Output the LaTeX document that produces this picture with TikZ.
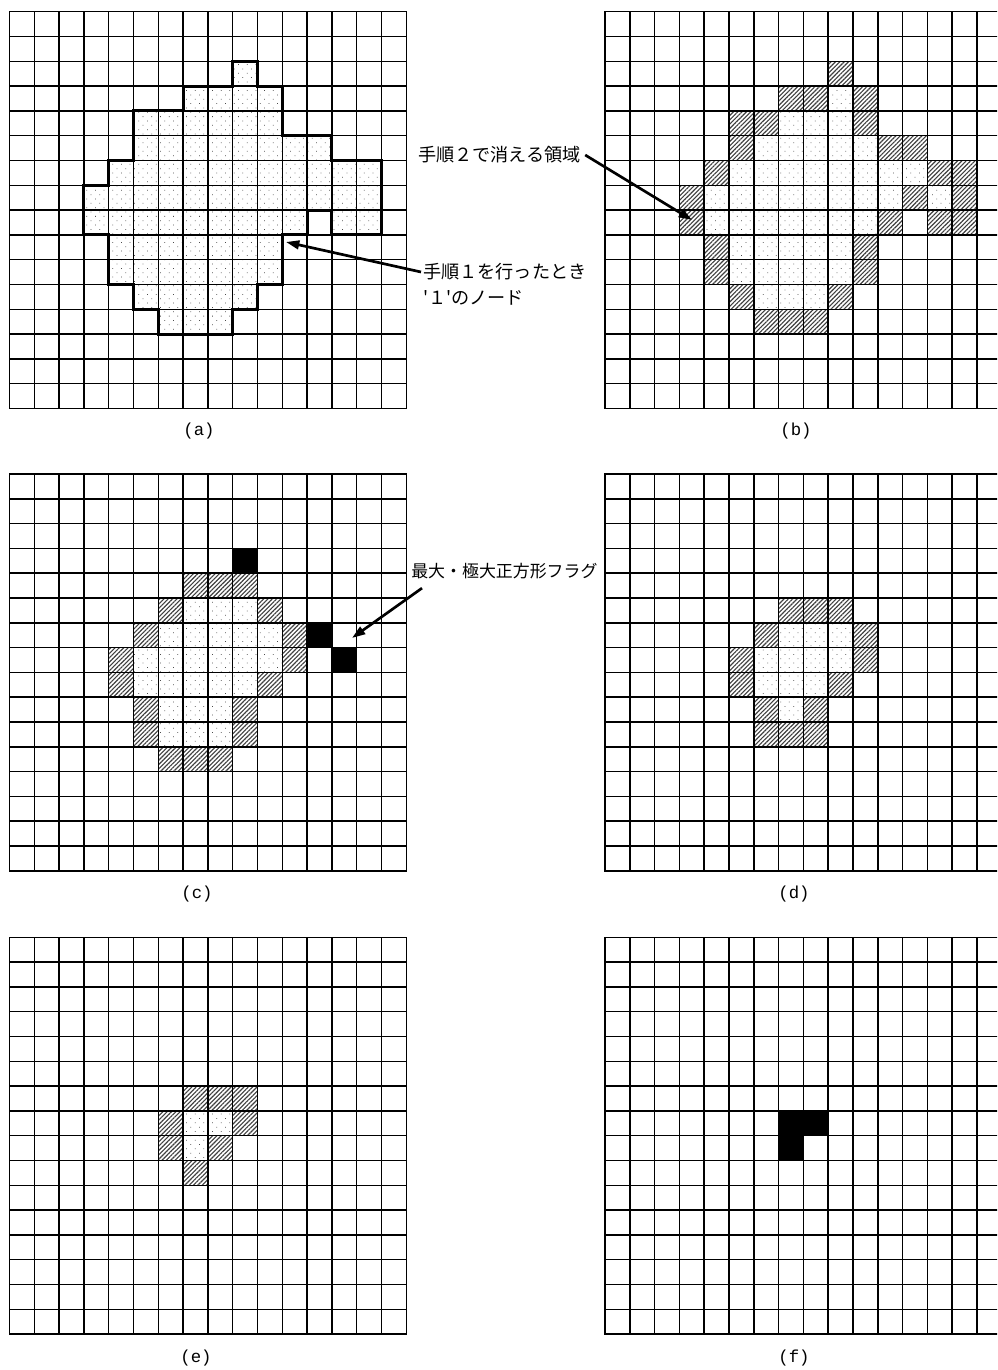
\documentclass[tikz,border=0pt]{standalone}
\usepackage{fontspec}
\newfontfamily\jp{Noto Sans CJK JP}
\newfontfamily\lbl{Liberation Mono}
\usetikzlibrary{patterns.meta,arrows.meta}
\newcommand{\run}[4]{\foreach \c in {#3,...,#4} {\path[#1] (\c,#2) rectangle ++(1,1);}}
\newcommand{\gridlines}{\foreach \i in {0,...,16} {\draw[gridline] (\i,0) -- (\i,16); \draw[gridline] (0,\i) -- (16,\i);}}
\begin{document}
\begin{tikzpicture}[x=0.75pt,y=-0.75pt,
  gridline/.style={line width=1.1pt,black,line cap=rect},
  regionline/.style={line width=2.2pt,black,line join=miter},
  dotcell/.style={pattern={Dots[distance=4.6pt,radius=0.4pt,angle=45]},pattern color=black!70},
  hatchcell/.style={pattern={Lines[angle=45,distance=2.3pt,line width=0.85pt]},pattern color=black!75},
  blackcell/.style={fill=black},
  jptext/.style={font=\jp\fontsize{13.6}{16}\selectfont, inner sep=0pt, anchor=west},
  sublabel/.style={font=\lbl\fontsize{13}{15}\selectfont, inner sep=0pt},
  arr/.style={line width=2pt,-{Triangle[length=10pt,width=6.5pt]}},
  gridscope/.style={x=18.6pt,y=-18.6pt},
]
\clip (0,0) rectangle (997,1370);
\fill[white] (0,0) rectangle (997,1370);

% (a)
\begin{scope}[shift={(9.5,11.7)},gridscope]
\run{dotcell}{2}{9}{9}
\run{dotcell}{3}{7}{10}
\run{dotcell}{4}{5}{10}
\run{dotcell}{5}{5}{12}
\run{dotcell}{6}{4}{14}
\run{dotcell}{7}{3}{14}
\run{dotcell}{8}{3}{11}
\run{dotcell}{8}{13}{14}
\run{dotcell}{9}{4}{10}
\run{dotcell}{10}{4}{10}
\run{dotcell}{11}{5}{9}
\run{dotcell}{12}{6}{8}
\gridlines
\draw[regionline] (9,2)--(10,2)--(10,3)--(11,3)--(11,5)--(13,5)--(13,6)--(15,6)--(15,9)--(13,9)--(13,8)--(12,8)--(12,9)--(11,9)--(11,11)--(10,11)--(10,12)--(9,12)--(9,13)--(6,13)--(6,12)--(5,12)--(5,11)--(4,11)--(4,9)--(3,9)--(3,7)--(4,7)--(4,6)--(5,6)--(5,4)--(7,4)--(7,3)--(9,3)--cycle;
\end{scope}

% (b)
\begin{scope}[shift={(605,11.7)},gridscope]
\run{hatchcell}{2}{9}{9}
\run{hatchcell}{3}{7}{8}
\run{hatchcell}{3}{10}{10}
\run{hatchcell}{4}{5}{6}
\run{hatchcell}{4}{10}{10}
\run{hatchcell}{5}{5}{5}
\run{hatchcell}{5}{11}{12}
\run{hatchcell}{6}{4}{4}
\run{hatchcell}{6}{13}{14}
\run{hatchcell}{7}{3}{3}
\run{hatchcell}{7}{12}{12}
\run{hatchcell}{7}{14}{14}
\run{hatchcell}{8}{3}{3}
\run{hatchcell}{8}{11}{11}
\run{hatchcell}{8}{13}{14}
\run{hatchcell}{9}{4}{4}
\run{hatchcell}{9}{10}{10}
\run{hatchcell}{10}{4}{4}
\run{hatchcell}{10}{10}{10}
\run{hatchcell}{11}{5}{5}
\run{hatchcell}{11}{9}{9}
\run{hatchcell}{12}{6}{8}
\run{dotcell}{3}{9}{9}
\run{dotcell}{4}{7}{9}
\run{dotcell}{5}{6}{10}
\run{dotcell}{6}{5}{12}
\run{dotcell}{7}{4}{11}
\run{dotcell}{7}{13}{13}
\run{dotcell}{8}{4}{10}
\run{dotcell}{9}{5}{9}
\run{dotcell}{10}{5}{9}
\run{dotcell}{11}{6}{8}
\gridlines
\end{scope}

% (c)
\begin{scope}[shift={(9.5,474)},gridscope]
\run{blackcell}{3}{9}{9}
\run{blackcell}{6}{12}{12}
\run{blackcell}{7}{13}{13}
\run{hatchcell}{4}{7}{9}
\run{hatchcell}{5}{6}{6}
\run{hatchcell}{5}{10}{10}
\run{hatchcell}{6}{5}{5}
\run{hatchcell}{6}{11}{11}
\run{hatchcell}{7}{4}{4}
\run{hatchcell}{7}{11}{11}
\run{hatchcell}{8}{4}{4}
\run{hatchcell}{8}{10}{10}
\run{hatchcell}{9}{5}{5}
\run{hatchcell}{9}{9}{9}
\run{hatchcell}{10}{5}{5}
\run{hatchcell}{10}{9}{9}
\run{hatchcell}{11}{6}{8}
\run{dotcell}{5}{7}{9}
\run{dotcell}{6}{6}{10}
\run{dotcell}{7}{5}{10}
\run{dotcell}{8}{5}{9}
\run{dotcell}{9}{6}{8}
\run{dotcell}{10}{6}{8}
\gridlines
\end{scope}

% (d)
\begin{scope}[shift={(605,474)},gridscope]
\run{hatchcell}{5}{7}{9}
\run{hatchcell}{6}{6}{6}
\run{hatchcell}{6}{10}{10}
\run{hatchcell}{7}{5}{5}
\run{hatchcell}{7}{10}{10}
\run{hatchcell}{8}{5}{5}
\run{hatchcell}{8}{9}{9}
\run{hatchcell}{9}{6}{6}
\run{hatchcell}{9}{8}{8}
\run{hatchcell}{10}{6}{8}
\run{dotcell}{6}{7}{9}
\run{dotcell}{7}{6}{9}
\run{dotcell}{8}{6}{8}
\run{dotcell}{9}{7}{7}
\gridlines
\end{scope}

% (e)
\begin{scope}[shift={(9.5,937.3)},gridscope]
\run{hatchcell}{6}{7}{9}
\run{hatchcell}{7}{6}{6}
\run{hatchcell}{7}{9}{9}
\run{hatchcell}{8}{6}{6}
\run{hatchcell}{8}{8}{8}
\run{hatchcell}{9}{7}{7}
\run{dotcell}{7}{7}{8}
\run{dotcell}{8}{7}{7}
\gridlines
\end{scope}

% (f)
\begin{scope}[shift={(605,937.3)},gridscope]
\run{blackcell}{7}{7}{8}
\run{blackcell}{8}{7}{7}
\gridlines
\end{scope}

% sub-figure labels
\node[sublabel] (la) at (199,431) {(a)};
\node[sublabel] (lb) at (796,431) {(b)};
\node[sublabel] (lc) at (197,894) {(c)};
\node[sublabel] (ld) at (794,894) {(d)};
\node[sublabel] (le) at (196,1358) {(e)};
\node[sublabel] (lf) at (794,1358) {(f)};

% annotations
\node[jptext] (t1) at (423,272) {手順１を行ったとき};
\node[jptext] (t1b) at (423,298) {'１'のノード};
\node[jptext] (t2) at (418,155) {手順２で消える領域};
\node[jptext,font=\jp\fontsize{12.7}{15}\selectfont] (t3) at (411,571) {最大・極大正方形フラグ};

\coordinate (p1) at (286,242);
\coordinate (p2) at (692,220);
\coordinate (p3) at (352,638);

\draw[arr] ([xshift=-1.5pt]t1.west) -- (p1);
\draw[arr] ([xshift=3pt]t2.east) -- (p2);
\draw[arr] ([shift={(11,9)}]t3.south west) -- (p3);
\end{tikzpicture}
\end{document}
